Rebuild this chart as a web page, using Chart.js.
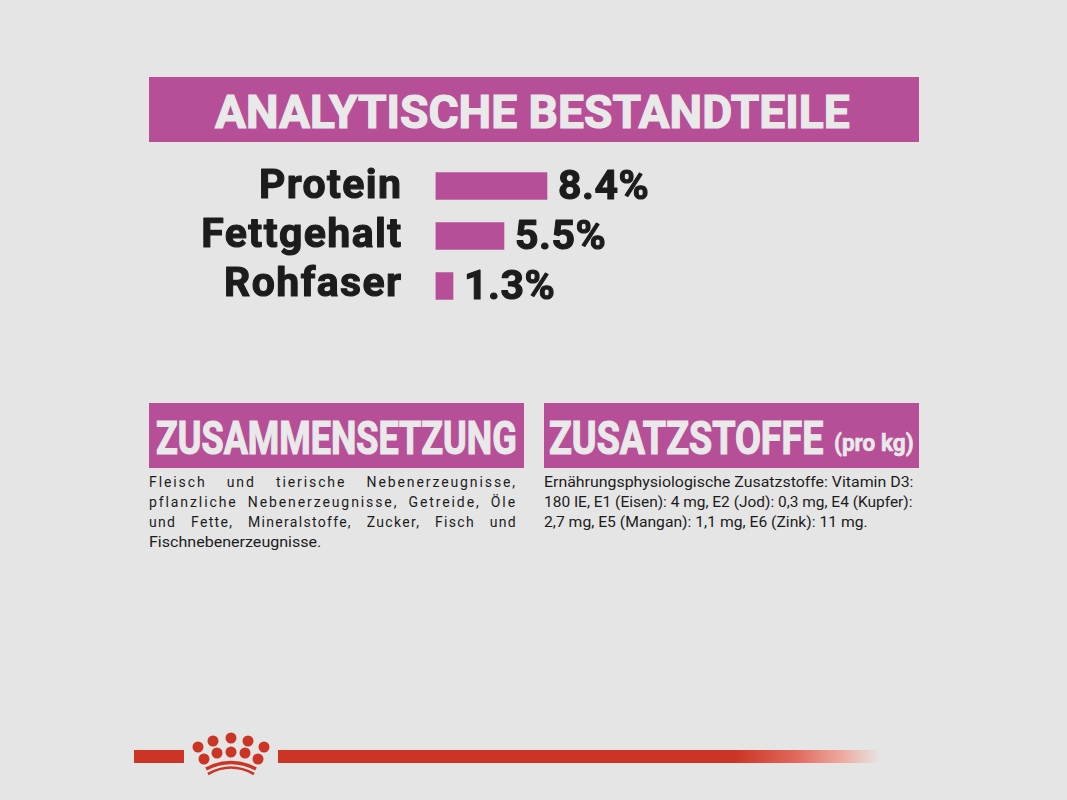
<!DOCTYPE html>
<html lang="de">
<head>
<meta charset="utf-8">
<title>Analytische Bestandteile</title>
<script src="https://cdn.jsdelivr.net/npm/chart.js@4"></script>
<style>
html, body { margin: 0; padding: 0; background: #e5e5e5; }
#page { position: relative; width: 1067px; height: 800px; overflow: hidden; background: #e5e5e5; font-family: Roboto, sans-serif; }
#price-canvas { position: absolute; left: 0; top: 0; }
.box { position: absolute; background: #b64f98; height: 65px; }
.head { position: absolute; color: #e9e9e9; font-weight: 700; font-size: 46px; line-height: 46px; white-space: nowrap; transform-origin: 0 0; -webkit-text-stroke: 1.2px #e9e9e9; }
.line { position: absolute; color: #1c1c1c; font-size: 14px; line-height: 20px; white-space: nowrap; transform-origin: 0 0; }
.just { text-align: justify; text-align-last: justify; white-space: normal; width: 368px; }
.rule { position: absolute; height: 13px; top: 750px; }
</style>
</head>
<body>
<div id="page">
  <div class="box" style="left:149px;top:77px;width:770px"></div>
  <div class="box" style="left:149px;top:403px;width:375px"></div>
  <div class="box" style="left:544px;top:403px;width:375px"></div>

  <div class="head" data-w="635" style="left:215px;top:89px">ANALYTISCHE BESTANDTEILE</div>
  <div class="head" data-w="361" style="left:156px;top:415px">ZUSAMMENSETZUNG</div>
  <div class="head" data-w="274" style="left:549px;top:415px">ZUSATZSTOFFE</div>
  <div class="head" data-w="80" style="left:834px;top:431px;font-size:24px;line-height:24px;-webkit-text-stroke:0.6px #e9e9e9">(pro kg)</div>

  <div class="line just" style="left:149px;top:472px;letter-spacing:1.9px">Fleisch und tierische Nebenerzeugnisse,</div>
  <div class="line just" style="left:149px;top:492px;letter-spacing:1.9px">pflanzliche Nebenerzeugnisse, Getreide, Öle</div>
  <div class="line just" style="left:149px;top:512px;letter-spacing:1.3px">und Fette, Mineralstoffe, Zucker, Fisch und</div>
  <div class="line" data-w="172" style="left:149px;top:532px">Fischnebenerzeugnisse.</div>

  <div class="line" data-w="369" style="left:544px;top:472px">Ernährungsphysiologische Zusatzstoffe: Vitamin D3:</div>
  <div class="line" data-w="369" style="left:544px;top:492px">180 IE, E1 (Eisen): 4 mg, E2 (Jod): 0,3 mg, E4 (Kupfer):</div>
  <div class="line" data-w="324" style="left:544px;top:512px">2,7 mg, E5 (Mangan): 1,1 mg, E6 (Zink): 11 mg.</div>

  <div class="rule" style="left:134px;width:50px;background:#cc3525"></div>
  <div class="rule" style="left:278px;width:602px;background:linear-gradient(to right,#cc3525 0%,#cc3525 76%,#e0695c 86%,#eeaca2 94%,#e5e5e5 100%)"></div>

  <svg style="position:absolute;left:190px;top:730px" width="85" height="50" viewBox="190 730 85 50" fill="#cc3525">
    <circle cx="198" cy="747" r="5.5"/><circle cx="213" cy="741" r="5.5"/><circle cx="231" cy="738" r="5.5"/><circle cx="248" cy="741" r="5.5"/><circle cx="264" cy="747" r="5.5"/>
    <circle cx="204" cy="759" r="5.5"/><circle cx="217" cy="753" r="5.5"/><circle cx="231" cy="752" r="5.5"/><circle cx="245" cy="753" r="5.5"/><circle cx="258" cy="759" r="5.5"/>
    <path d="M206 769 Q231 756 256 769" fill="none" stroke="#cc3525" stroke-width="3.6"/>
    <path d="M208 774 Q231 761 254 774" fill="none" stroke="#cc3525" stroke-width="2.6"/>
  </svg>

  <canvas id="price-canvas" width="1067" height="800"></canvas>
</div>
<script>
const categories = ["Protein", "Fettgehalt", "Rohfaser"];
// bar lengths as measured in the picture, the printed figures are in valueLabels
const barLengths = [8.4, 5.16, 1.32];
const valueLabels = ["8.4%", "5.5%", "1.3%"];
const barColor = "#b64f98";
const textColor = "#1c1c1c";

// labels sit a bit tighter than the bars in the original
const barLabels = {
    id: "barLabels",
    afterDatasetsDraw(chart) {
        const ctx = chart.ctx;
        const x = chart.scales.x;
        const y = chart.scales.y;
        ctx.save();
        ctx.fillStyle = textColor;
        ctx.strokeStyle = textColor;
        ctx.lineWidth = 1.1;
        ctx.lineJoin = "round";
        ctx.textBaseline = "middle";
        ctx.font = "700 41px Roboto";
        ctx.letterSpacing = "1.4px";
        ctx.textAlign = "right";
        categories.forEach((name, i) => {
            const px = x.getPixelForValue(0) - 33;
            const py = y.getPixelForValue(i) + 2 - i;
            ctx.fillText(name, px, py);
            ctx.strokeText(name, px, py);
        });
        ctx.letterSpacing = "0.5px";
        ctx.textAlign = "left";
        valueLabels.forEach((label, i) => {
            const px = x.getPixelForValue(barLengths[i]) + 11;
            const py = y.getPixelForValue(i) + 3;
            ctx.fillText(label, px, py);
            ctx.strokeText(label, px, py);
        });
        ctx.restore();
    },
};

new Chart(document.getElementById("price-canvas").getContext("2d"), {
    type: "bar",
    data: {
        labels: categories,
        datasets: [{ data: barLengths, backgroundColor: barColor, barThickness: 27 }],
    },
    options: {
        indexAxis: "y",
        responsive: false,
        animation: false,
        layout: { padding: { left: 435.5, right: 498.8, top: 161, bottom: 489 } },
        plugins: { legend: { display: false }, tooltip: { enabled: false } },
        scales: {
            x: { display: false, min: 0, max: 10 },
            y: { display: false },
        },
    },
    plugins: [barLabels],
});

// squeeze the heading and body lines to the widths in the original
document.querySelectorAll("[data-w]").forEach(el => {
    el.style.transform = "scaleX(" + (el.dataset.w / el.offsetWidth) + ")";
});
</script>
</body>
</html>
